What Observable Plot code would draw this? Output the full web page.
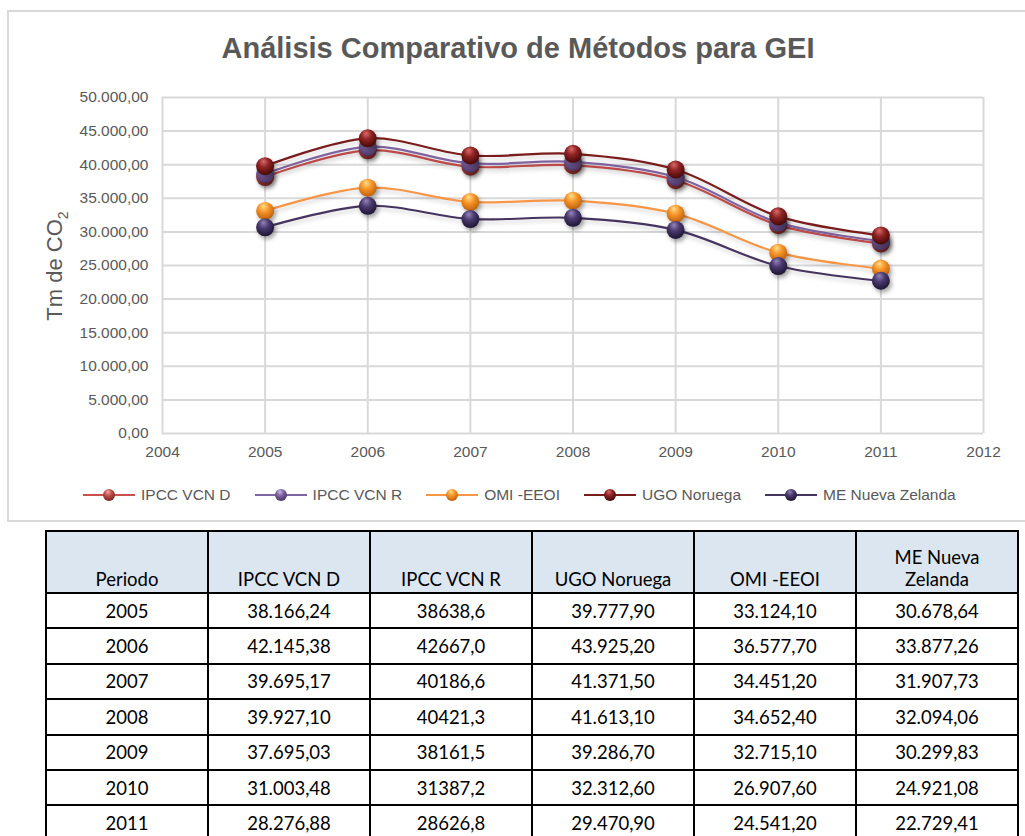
<!DOCTYPE html>
<html><head><meta charset="utf-8">
<script src="https://cdn.jsdelivr.net/npm/d3@7"></script>
<script src="https://cdn.jsdelivr.net/npm/@observablehq/plot@0.6"></script>
<style>
body{margin:0;background:#fff;font-family:"Liberation Sans",Arial,sans-serif;}
#page{position:relative;width:1025px;height:836px;overflow:hidden;}
#frame{position:absolute;left:7px;top:10px;width:1040px;height:512px;border:2px solid #d9d9d9;box-sizing:border-box;}
#title{position:absolute;left:0;width:1036px;top:30px;text-align:center;font-weight:bold;font-size:29px;line-height:36px;color:#595959;}
#chart{position:absolute;left:0;top:80px;}
#chart svg g[aria-label="dot"] circle{filter:drop-shadow(2px 3px 2px rgba(0,0,0,0.35));}
#chart svg g[aria-label="line"] path{filter:drop-shadow(1px 3px 2px rgba(0,0,0,0.18));}
#legend{position:absolute;top:486px;left:83px;display:flex;align-items:center;font-size:15.5px;color:#595959;white-space:nowrap;}
#legend .item{display:flex;align-items:center;margin-right:24px;}
#legend svg{margin-right:6px;overflow:visible;}
#tbl{position:absolute;left:45px;top:530px;border-collapse:collapse;font-family:Lato,"Open Sans",sans-serif;font-size:18.5px;color:#000;table-layout:fixed;}
#tbl td,#tbl th{border:2px solid #000;width:160px;text-align:center;padding:0;font-weight:normal;}
#tbl th{background:#dce6f1;height:58px;vertical-align:bottom;white-space:pre-line;line-height:22px;padding-bottom:2px;}
#tbl td{height:33.4px;vertical-align:middle;}
</style>
</head><body>
<div id="page">
  <div id="frame"></div>
  <div id="title"></div>
  <div id="chart"></div>
  <div id="legend"></div>
  <table id="tbl"></table>
</div>
<script>
const titleText = "Análisis Comparativo de Métodos para GEI";
const yLabelMain = "Tm de CO";
const yLabelSub = "2";
const years = [2005, 2006, 2007, 2008, 2009, 2010, 2011];
const ipccD = [38166.24, 42145.38, 39695.17, 39927.10, 37695.03, 31003.48, 28276.88];
const ipccR = [38638.6, 42667.0, 40186.6, 40421.3, 38161.5, 31387.2, 28626.8];
const omi   = [33124.10, 36577.70, 34451.20, 34652.40, 32715.10, 26907.60, 24541.20];
const ugo   = [39777.90, 43925.20, 41371.50, 41613.10, 39286.70, 32312.60, 29470.90];
const meNZ  = [30678.64, 33877.26, 31907.73, 32094.06, 30299.83, 24921.08, 22729.41];
const xTicks = [2004, 2005, 2006, 2007, 2008, 2009, 2010, 2011, 2012];
const yTicks = [0, 5000, 10000, 15000, 20000, 25000, 30000, 35000, 40000, 45000, 50000];
const tableHeaders = ["Periodo", "IPCC VCN D", "IPCC VCN R", "UGO Noruega", "OMI -EEOI", "ME Nueva\nZelanda"];

const series = [
  {name: "IPCC VCN D", values: ipccD, line: "#c9504f", base: "#c0504d", light: "#f4a9a7", dark: "#7a2422"},
  {name: "IPCC VCN R", values: ipccR, line: "#8064a2", base: "#8064a2", light: "#cdbde6", dark: "#4a3566"},
  {name: "OMI -EEOI", values: omi, line: "#f79646", base: "#f7962a", light: "#ffe08a", dark: "#c0600a"},
  {name: "UGO Noruega", values: ugo, line: "#7b1c1c", base: "#8e2323", light: "#d96a6a", dark: "#450808"},
  {name: "ME Nueva Zelanda", values: meNZ, line: "#45345f", base: "#4a3a70", light: "#9484ba", dark: "#1e1532"}
];

const data = series.flatMap((s, i) => years.map((y, j) => ({series: s.name, idx: i, year: y, value: s.values[j]})));

const fmt = d => d.toLocaleString("de-DE", {minimumFractionDigits: 2, maximumFractionDigits: 2});

const marks = [
  Plot.gridX(xTicks, {stroke: "#d9d9d9", strokeWidth: 2, strokeOpacity: 1}),
  Plot.gridY(yTicks, {stroke: "#d9d9d9", strokeWidth: 2, strokeOpacity: 1}),
  Plot.axisX(xTicks, {tickSize: 0, tickPadding: 12, tickFormat: d => String(d), fontSize: 15.5, fill: "#595959", label: null}),
  Plot.axisY(yTicks, {tickSize: 0, tickPadding: 14, tickFormat: fmt, fontSize: 15.5, fill: "#595959", label: null})
];
series.forEach((s, i) => {
  const d = data.filter(r => r.idx === i);
  marks.push(Plot.line(d, {x: "year", y: "value", stroke: () => s.line, strokeWidth: 2.2, curve: "catmull-rom"}));
  marks.push(Plot.dot(d, {x: "year", y: "value", r: 9, fill: () => `url(#sph-${i})`, stroke: "none"}));
});

const chart = Plot.plot({
  width: 1025, height: 400,
  marginTop: 17, marginBottom: 47, marginLeft: 162, marginRight: 42,
  style: {fontFamily: "'Liberation Sans', Arial, sans-serif", fontSize: "15.5px", color: "#595959", background: "transparent", overflow: "visible"},
  x: {domain: [2004, 2012], label: null},
  y: {domain: [0, 50000], label: null},
  color: {type: "identity"},
  marks
});

const svg = d3.select(chart);
const defs = svg.insert("defs", ":first-child");
series.forEach((s, i) => {
  const g = defs.append("radialGradient").attr("id", `sph-${i}`).attr("cx", "45%").attr("cy", "35%").attr("r", "65%").attr("fx", "40%").attr("fy", "22%");
  g.append("stop").attr("offset", "0%").attr("stop-color", s.light);
  g.append("stop").attr("offset", "45%").attr("stop-color", s.base);
  g.append("stop").attr("offset", "100%").attr("stop-color", s.dark);
});
const yl = svg.append("text")
  .attr("transform", "translate(62,186) rotate(-90)")
  .attr("text-anchor", "middle")
  .attr("fill", "#595959")
  .attr("font-size", 22)
  .attr("font-family", "'Liberation Sans', Arial, sans-serif");
yl.append("tspan").text(yLabelMain);
yl.append("tspan").attr("font-size", 14).attr("dy", 6).text(yLabelSub);

document.getElementById("chart").appendChild(chart);
document.getElementById("title").textContent = titleText;

// legend
const legend = d3.select("#legend");
series.forEach((s, i) => {
  const it = legend.append("div").attr("class", "item");
  const ls = it.append("svg").attr("width", 52).attr("height", 16);
  ls.append("line").attr("x1", 0).attr("x2", 52).attr("y1", 8).attr("y2", 8).attr("stroke", s.line).attr("stroke-width", 2.2);
  ls.append("circle").attr("cx", 26).attr("cy", 8).attr("r", 6).attr("fill", `url(#sph-${i})`);
  it.append("span").text(s.name);
});

// table
const tbl = d3.select("#tbl");
tbl.append("tr").selectAll("th").data(tableHeaders).join("th").text(d => d);
const fmtR = v => v.toFixed(1).replace(".", ",");
years.forEach((y, j) => {
  const cells = [String(y), fmt(ipccD[j]), fmtR(ipccR[j]), fmt(ugo[j]), fmt(omi[j]), fmt(meNZ[j])];
  tbl.append("tr").selectAll("td").data(cells).join("td").text(d => d);
});
</script>
</body></html>
